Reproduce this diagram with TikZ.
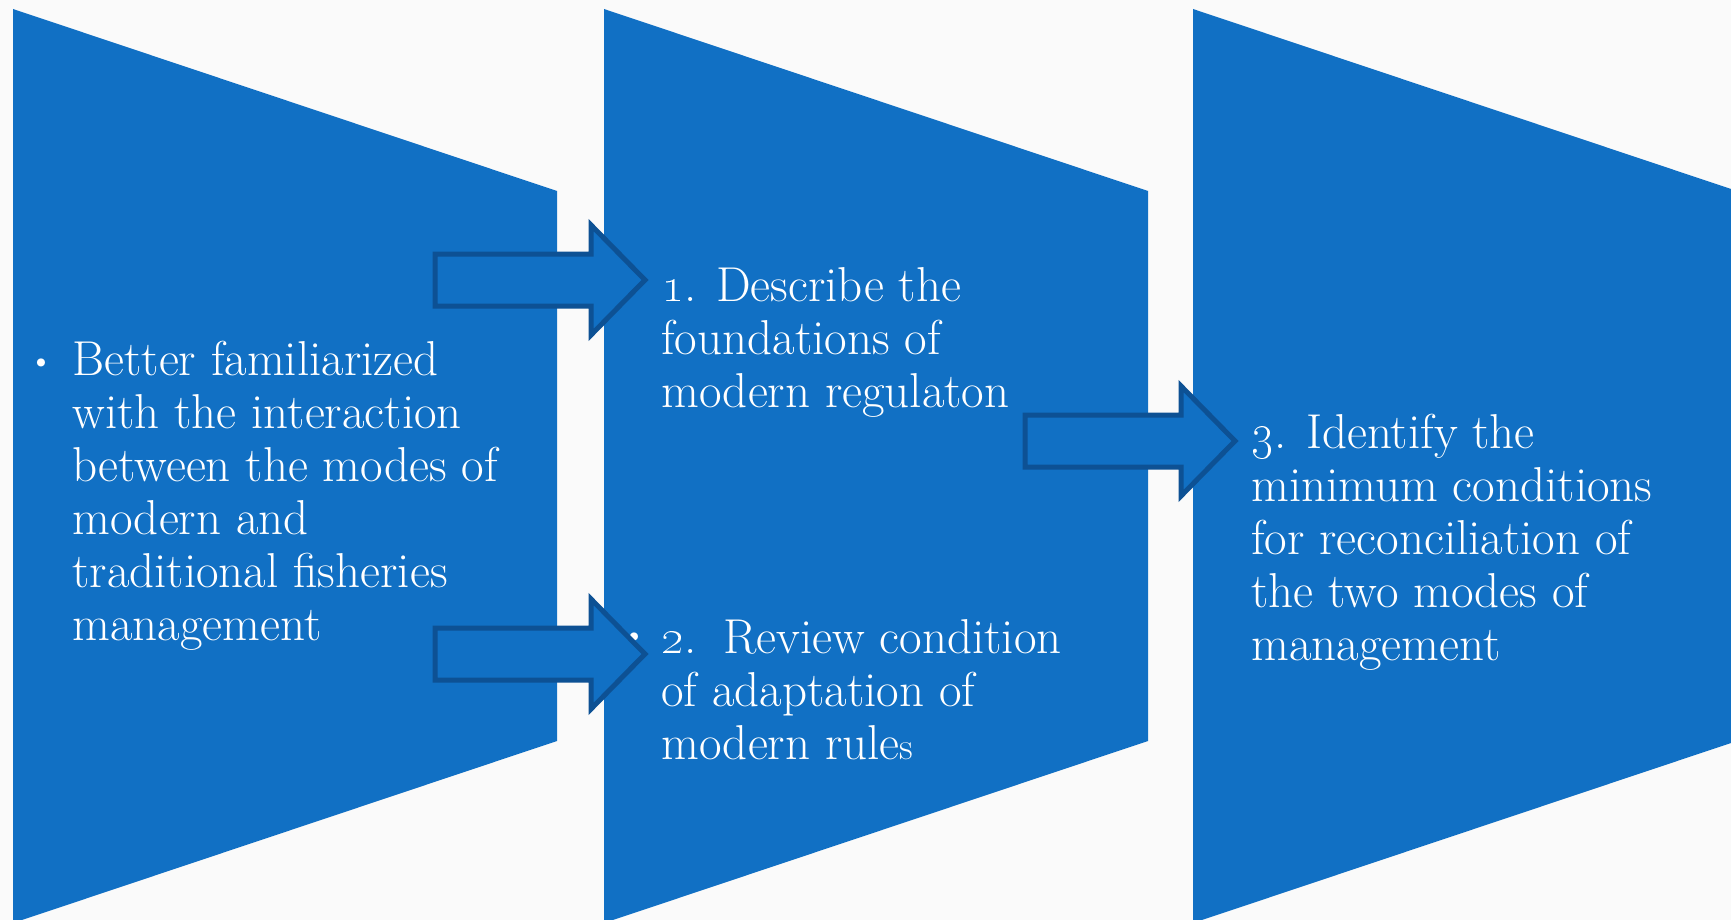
\documentclass[tikz,border=0pt]{standalone}
\definecolor{boxblue}{HTML}{1170C4}
\definecolor{arrowline}{HTML}{0D5194}
\definecolor{bgpaper}{HTML}{FAFAFA}
\begin{document}
\begin{tikzpicture}[x=0.5pt,y=-0.5pt,
  panel/.style={fill=boxblue},
  blockarrow/.style={fill=boxblue,draw=arrowline,line width=2.5pt,line join=miter},
  txt/.style={text=white,inner sep=0pt,anchor=base west,align=left,font=\fontsize{24.5}{26.5}\selectfont},
  bul/.style={text=white,inner sep=0pt,anchor=base,font=\fontsize{18}{20}\selectfont}]
\fill[bgpaper] (0,0) rectangle (1731,920);
\useasboundingbox (0,0) rectangle (1731,920);
\begin{scope}
\clip (0,0) rectangle (1731,920);
\path[panel] (13,9) -- (557,191) -- (557,741) -- (13,923) -- cycle;
\path[panel] (604,9) -- (1148,191) -- (1148,741) -- (604,923) -- cycle;
\path[panel] (1193,9) -- (1737,191) -- (1737,741) -- (1193,923) -- cycle;
\end{scope}
% bullets
\node[bul] (b0) at (41,372) {\textbullet};
\node[bul] (b1) at (632,299) {\textbullet};
\node[bul] (b2) at (634,646) {\textbullet};
\node[bul] (b3) at (1223,443) {\textbullet};
% texts (anchored at the baseline of the last line)
\node[txt] (t0) at (72,640) {Better familiarized\\with the interaction\\between the modes of\\modern and\\traditional fisheries\\management};
\node[txt] (t1) at (661,407) {\oldstylenums{1}. Describe the\\foundations of\\modern regulaton};
\node[txt] (t2) at (661,759) {\oldstylenums{2}.\hspace{0.55em}Review condition\\of adaptation of\\modern rule{\fontsize{19}{20}\selectfont s}};
\node[txt] (t3) at (1251,660) {\oldstylenums{3}. Identify the\\minimum conditions\\for reconciliation of\\the two modes of\\management};
% block arrows
\draw[blockarrow] (435,254) -- (591,254) -- (591,225) -- (645,280) -- (591,335) -- (591,306) -- (435,306) -- cycle;
\draw[blockarrow] (435,628) -- (591,628) -- (591,599) -- (645,654) -- (591,709) -- (591,680) -- (435,680) -- cycle;
\draw[blockarrow] (1025,415) -- (1181,415) -- (1181,386) -- (1235,441) -- (1181,496) -- (1181,467) -- (1025,467) -- cycle;
\end{tikzpicture}
\end{document}
